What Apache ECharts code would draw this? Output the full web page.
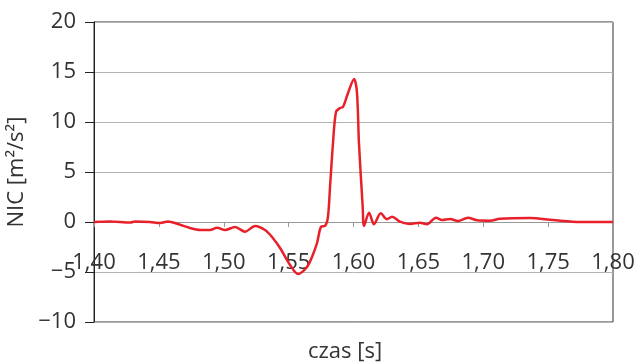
<!DOCTYPE html>
<html><head><meta charset="utf-8">
<script src="https://cdn.jsdelivr.net/npm/echarts@6/dist/echarts.min.js"></script>
<style>html,body{margin:0;padding:0;background:#fff}#c{width:639px;height:363px}</style>
</head><body><div id="c"></div>
<script>
const times = [1.400,1.412,1.428,1.4316,1.443,1.451,1.457,1.4647,1.474,1.4817,1.4894,1.4948,1.501,1.5087,1.5164,1.5241,1.5318,1.5372,1.5434,1.5511,1.5572,1.5642,1.568,1.5719,1.575,1.578,1.5803,1.5819,1.5842,1.5865,1.5896,1.5919,1.5958,1.6004,1.6027,1.6042,1.6071,1.6081,1.612,1.6158,1.621,1.6258,1.6297,1.6358,1.6435,1.6513,1.6566,1.6636,1.6682,1.6744,1.6805,1.6882,1.6952,1.7052,1.7129,1.736,1.7538,1.7749,1.800];
const nic = [0,0.05,-0.05,0.05,0.0,-0.1,0.05,-0.2,-0.6,-0.8,-0.8,-0.57,-0.8,-0.5,-0.97,-0.4,-0.8,-1.5,-2.6,-4.3,-5.2,-4.5,-3.5,-2.1,-0.47,-0.4,0.5,3.5,7.9,11.0,11.4,11.5,12.9,14.3,12.9,7.9,1.5,-0.4,0.93,-0.23,0.87,0.27,0.53,0.03,-0.2,-0.07,-0.23,0.43,0.2,0.3,0.1,0.43,0.17,0.13,0.33,0.4,0.2,0.0,0.0];
const xTitle = 'czas [s]';
const yTitle = 'NIC [m²/s²]';
const FONT = '"Open Sans", sans-serif';
const chart = echarts.init(document.getElementById('c'));
chart.setOption({
  animation:false,
  grid:{left:94,right:26,top:22,bottom:41,show:true,borderColor:'#333',borderWidth:1,outerBoundsMode:'none',containLabel:false},
  xAxis:{type:'value',min:1.4,max:1.8,interval:0.05,offset:-100,
    axisLine:{onZero:false,lineStyle:{color:'#999',width:1}},
    axisTick:{show:true,length:5,lineStyle:{color:'#999'}},
    axisLabel:{margin:30,fontSize:22,fontFamily:FONT,color:'#333',
      formatter:v=>v.toFixed(2).replace('.',',')},
    splitLine:{show:false}},
  yAxis:{type:'value',min:-10,max:20,interval:5,
    name:yTitle,nameLocation:'middle',nameGap:56,
    nameTextStyle:{fontSize:22,fontFamily:FONT,color:'#333'},
    axisLine:{show:true,lineStyle:{color:'#222'}},
    axisTick:{show:true,inside:false,length:9,lineStyle:{color:'#222'}},
    axisLabel:{margin:18,fontSize:22,fontFamily:FONT,color:'#333',
      formatter:v=>v<0?'\u2212'+Math.abs(v):String(v)},
    splitLine:{show:true,lineStyle:{color:'#b4b4b4',width:1}}},
  graphic:[{type:'text',left:353-45,top:341,style:{text:xTitle,font:'22px '+FONT,fill:'#333'}}],
  series:[{type:'line',data:times.map((t,i)=>[t,nic[i]]),smooth:0.3,showSymbol:false,
    lineStyle:{color:'#e8202a',width:2.5}}]
});
</script></body></html>
